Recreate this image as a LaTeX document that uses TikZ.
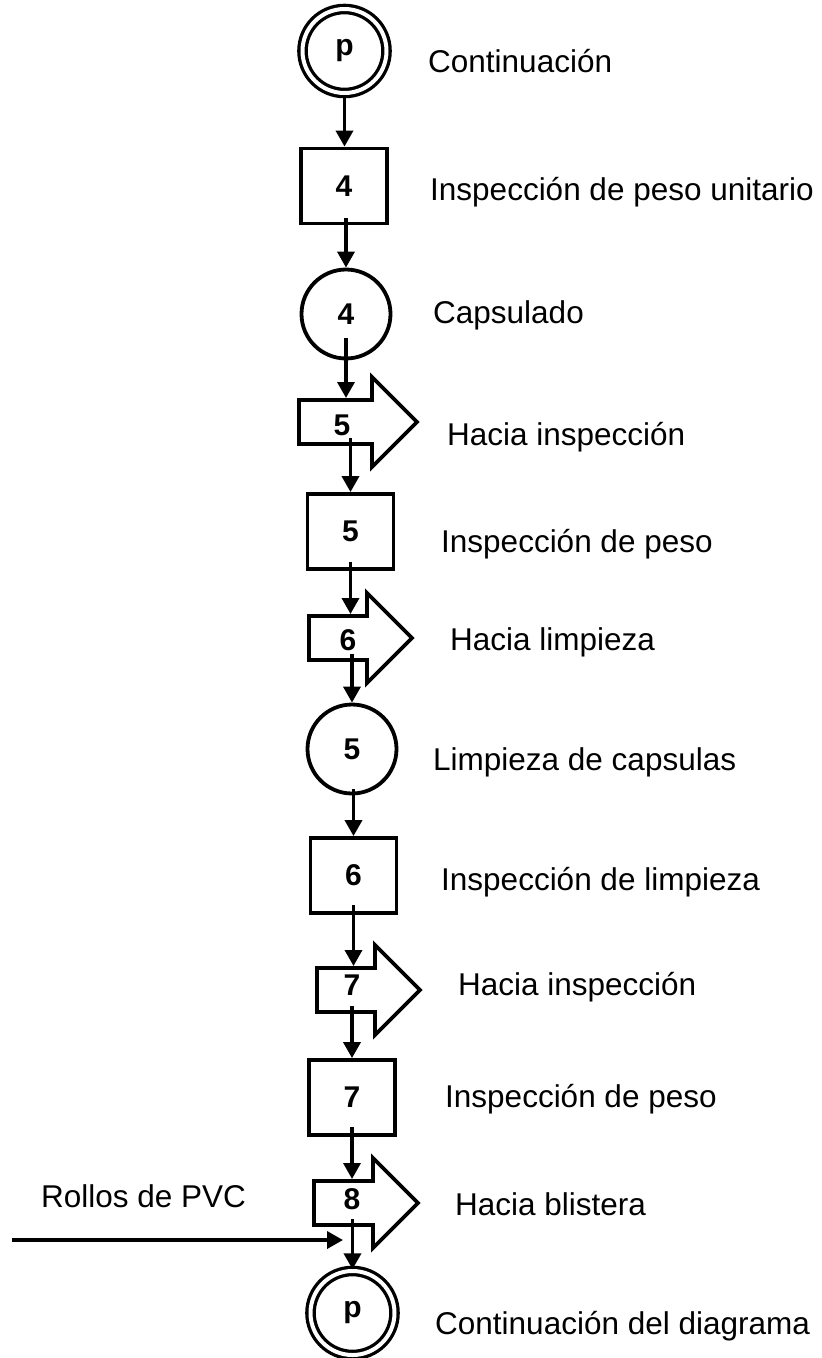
\documentclass[tikz,border=0pt]{standalone}
\usepackage{fontspec}
\setmainfont{Liberation Sans}
\usetikzlibrary{arrows.meta,calc,positioning}

\tikzset{
    caja/.style={draw, line width=3.8pt, minimum width=86pt, minimum height=75pt, inner sep=0pt, font=\bfseries\fontsize{30}{34}\selectfont},
    operacion/.style={draw, circle, line width=3.8pt, minimum size=89pt, inner sep=0pt, font=\bfseries\fontsize{30}{34}\selectfont},
    conector/.style={draw, circle, line width=3.3pt, double, double distance=4pt, minimum size=84pt, inner sep=0pt, font=\bfseries\fontsize{30}{34}\selectfont},
    numero/.style={inner sep=0pt, font=\bfseries\fontsize{30}{34}\selectfont},
    texto/.style={anchor=base west, inner sep=0pt, font=\fontsize{31.5}{36}\selectfont},
    flujo/.style={line width=3.5pt, -{Triangle[length=16pt,width=17pt]}},
    pics/transporte/.style={code={
        \draw[line width=3.8pt, line join=miter] (0,-22) -- (#1,-22) -- (#1,-45) -- ({#1+45},0) -- (#1,45) -- (#1,22) -- (0,22) -- cycle;
        \coordinate (-top) at (0,-24);
        \coordinate (-bot) at (0,16);
    }}
}

\begin{document}
\begin{tikzpicture}[x=1pt, y=-1pt]
    \useasboundingbox (0,0) rectangle (822,1358);

    % simbolos del diagrama
    \node[conector] (p1) at (344.5,51) {p};
    \node[caja] (b4) at (344,186) {4};
    \node[operacion] (c4) at (346,314) {4};
    \pic (t5) at (299,422) {transporte=73};
    \node[numero] (n5) at (342,425) {5};
    \node[caja] (b5) at (350.5,531.5) {5};
    \pic (t6) at (309,638) {transporte=58};
    \node[numero] (n6) at (348,640) {6};
    \node[operacion] (c5) at (352,749) {5};
    \node[caja] (b6) at (353.5,875.5) {6};
    \pic (t7) at (317,990) {transporte=58};
    \node[numero] (n7) at (352,985) {7};
    \node[caja] (b7) at (352,1097.5) {7};
    \pic (t8) at (314,1203) {transporte=59};
    \node[numero] (n8) at (352,1199) {8};
    \node[conector] (p2) at (352.5,1313) {p};

    % flechas de flujo
    \draw[flujo] (p1.south) -- (p1.south |- b4.north);
    \draw[flujo] ($(b4.south -| c4.north)+(0,-7)$) -- (c4.north);
    \draw[flujo] ($(c4.south)+(0,-22)$) -- (c4.south |- t5-top);
    \draw[flujo] (b5.north |- t5-bot) -- (b5.north);
    \draw[flujo] ($(b5.south)+(0,-9)$) -- (b5.south |- t6-top);
    \draw[flujo] (c5.north |- t6-bot) -- (c5.north);
    \draw[flujo] ($(c5.south -| b6.north)+(0,-6)$) -- (b6.north);
    \draw[flujo] ($(b6.south)+(0,-10)$) -- (b6.south |- t7-top);
    \draw[flujo] (b7.north |- t7-bot) -- (b7.north);
    \draw[flujo] ($(b7.south)+(0,-10)$) -- (b7.south |- t8-top);
    \draw[flujo] (p2.north |- t8-bot) -- (p2.north);

    % entrada de material
    \coordinate (pvc) at (12,1240);
    \coordinate (entrada) at (343,1240);
    \draw[flujo] (pvc) -- (entrada);
    \node[texto] (rollos) at (41,1207) {Rollos de PVC};

    % descripciones
    \node[texto] (d1) at (428,72) {Continuación};
    \node[texto] (d2) at (430,200) {Inspección de peso unitario};
    \node[texto] (d3) at (433,323) {Capsulado};
    \node[texto] (d4) at (447,445) {Hacia inspección};
    \node[texto] (d5) at (441,552) {Inspección de peso};
    \node[texto] (d6) at (450,650) {Hacia limpieza};
    \node[texto] (d7) at (433,770) {Limpieza de capsulas};
    \node[texto] (d8) at (441,890) {Inspección de limpieza};
    \node[texto] (d9) at (458,995) {Hacia inspección};
    \node[texto] (d10) at (445,1107) {Inspección de peso};
    \node[texto] (d11) at (455,1215) {Hacia blistera};
    \node[texto] (d12) at (435,1334) {Continuación del diagrama};
\end{tikzpicture}
\end{document}
